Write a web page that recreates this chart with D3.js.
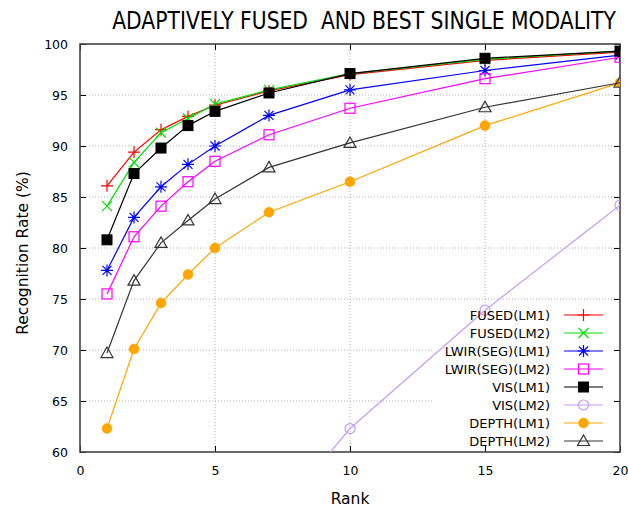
<!DOCTYPE html>
<html>
<head>
<meta charset="utf-8">
<script src="https://cdn.jsdelivr.net/npm/d3@7"></script>
<style>
  html, body { margin: 0; padding: 0; background: #fff; }
  svg { display: block; font-family: "DejaVu Sans", sans-serif; }
</style>
</head>
<body>
<svg id="chart" width="628" height="508"></svg>
<script>
// Ranks evaluated
const ranks = [1, 2, 3, 4, 5, 7, 10, 15, 20];

// Recognition rate (%) per rank
const fusedLM1   = [86.1, 89.4, 91.6, 92.9, 94.0, 95.4, 97.0, 98.4, 99.2];
const fusedLM2   = [84.1, 88.4, 91.3, 92.7, 94.1, 95.5, 97.1, 98.5, 99.3];
const lwirSegLM1 = [77.8, 83.0, 86.0, 88.2, 90.0, 93.0, 95.5, 97.4, 98.9];
const lwirSegLM2 = [75.5, 81.1, 84.1, 86.5, 88.5, 91.1, 93.7, 96.6, 98.7];
const visLM1     = [80.8, 87.3, 89.8, 92.0, 93.4, 95.2, 97.1, 98.6, 99.3];
const visLM2     = [27.5, 35.0, 40.0, 44.0, 47.5, 52.8, 62.3, 73.9, 84.2];
const depthLM1   = [62.3, 70.1, 74.6, 77.4, 80.0, 83.5, 86.5, 92.0, 96.2];
const depthLM2   = [69.7, 76.8, 80.5, 82.7, 84.8, 87.9, 90.3, 93.8, 96.2];

const seriesNames = ["FUSED(LM1)", "FUSED(LM2)", "LWIR(SEG)(LM1)", "LWIR(SEG)(LM2)",
                     "VIS(LM1)", "VIS(LM2)", "DEPTH(LM1)", "DEPTH(LM2)"];
const seriesValues = [fusedLM1, fusedLM2, lwirSegLM1, lwirSegLM2, visLM1, visLM2, depthLM1, depthLM2];

const xTicks = [0, 5, 10, 15, 20];
const yTicks = [60, 65, 70, 75, 80, 85, 90, 95, 100];

const titleText = "ADAPTIVELY FUSED  AND BEST SINGLE MODALITY";
const xLabel = "Rank";
const yLabel = "Recognition Rate (%)";

// Drawing style per series
const styles = [
  { color: "#ff0000", marker: "plus" },
  { color: "#00e000", marker: "cross" },
  { color: "#0000ff", marker: "star" },
  { color: "#ff00ff", marker: "openSquare" },
  { color: "#000000", marker: "filledSquare" },
  { color: "#c59cf5", marker: "openCircle" },
  { color: "#ffa500", marker: "filledCircle" },
  { color: "#333333", marker: "openTriangle" }
];

const svg = d3.select("#chart");
const plotLeft = 80, plotRight = 620, plotTop = 44, plotBottom = 452;

const x = d3.scaleLinear().domain([0, 20]).range([plotLeft, plotRight]);
const y = d3.scaleLinear().domain([60, 100]).range([plotBottom, plotTop]);

svg.append("defs").append("clipPath").attr("id", "plotClip")
  .append("rect").attr("x", plotLeft).attr("y", plotTop)
  .attr("width", plotRight - plotLeft).attr("height", plotBottom - plotTop);

// Dotted grid
const grid = svg.append("g");
grid.selectAll("line.gx").data(xTicks.slice(1, -1)).join("line")
  .attr("x1", d => x(d)).attr("x2", d => x(d))
  .attr("y1", plotTop).attr("y2", plotBottom)
  .attr("stroke", "#b0b0b0").attr("stroke-width", 1).attr("stroke-dasharray", "1,2");
grid.selectAll("line.gy").data(yTicks.slice(1, -1)).join("line")
  .attr("x1", plotLeft).attr("x2", plotRight)
  .attr("y1", d => y(d)).attr("y2", d => y(d))
  .attr("stroke", "#b0b0b0").attr("stroke-width", 1).attr("stroke-dasharray", "1,2");

// Key box (opaque, hides grid behind it)
const keyLeft = 432, keyTop = 304, keyRow = 18, keyFirst = 315;
svg.append("rect").attr("x", keyLeft).attr("y", keyTop)
  .attr("width", 612 - keyLeft).attr("height", 448 - keyTop).attr("fill", "#fff");

// Axes with inward ticks on all sides
function styleAxis(g) {
  g.select(".domain").remove();
  g.selectAll(".tick line").attr("stroke", "#000").attr("stroke-width", 1);
  g.selectAll(".tick text").attr("fill", "#000").attr("font-size", 12.5)
    .attr("font-family", "DejaVu Sans, sans-serif");
}
svg.append("g").attr("transform", `translate(0,${plotBottom})`)
  .call(d3.axisBottom(x).tickValues(xTicks).tickSize(-6).tickPadding(14).tickFormat(d3.format("d")))
  .call(styleAxis);
svg.append("g").attr("transform", `translate(0,${plotTop})`)
  .call(d3.axisTop(x).tickValues(xTicks).tickSize(-6).tickFormat(""))
  .call(styleAxis);
svg.append("g").attr("transform", `translate(${plotLeft},0)`)
  .call(d3.axisLeft(y).tickValues(yTicks).tickSize(-6).tickPadding(12).tickFormat(d3.format("d")))
  .call(styleAxis);
svg.append("g").attr("transform", `translate(${plotRight},0)`)
  .call(d3.axisRight(y).tickValues(yTicks).tickSize(-6).tickFormat(""))
  .call(styleAxis);

// Frame
svg.append("rect").attr("x", plotLeft).attr("y", plotTop)
  .attr("width", plotRight - plotLeft).attr("height", plotBottom - plotTop)
  .attr("fill", "none").attr("stroke", "#444").attr("stroke-width", 1.6);

// Marker drawing
function drawMarker(g, cx, cy, type, color) {
  const s = 5;
  switch (type) {
    case "plus":
      g.append("path").attr("d", `M${cx - 6},${cy}H${cx + 6}M${cx},${cy - 6}V${cy + 6}`)
        .attr("stroke", color).attr("stroke-width", 1.2).attr("fill", "none");
      break;
    case "cross":
      g.append("path").attr("d", `M${cx - s},${cy - s}L${cx + s},${cy + s}M${cx - s},${cy + s}L${cx + s},${cy - s}`)
        .attr("stroke", color).attr("stroke-width", 1.2).attr("fill", "none");
      break;
    case "star":
      g.append("path").attr("d",
        `M${cx - 6},${cy}H${cx + 6}M${cx},${cy - 6}V${cy + 6}` +
        `M${cx - 4.5},${cy - 4.5}L${cx + 4.5},${cy + 4.5}M${cx - 4.5},${cy + 4.5}L${cx + 4.5},${cy - 4.5}`)
        .attr("stroke", color).attr("stroke-width", 1.2).attr("fill", "none");
      break;
    case "openSquare":
      g.append("rect").attr("x", cx - 5).attr("y", cy - 5).attr("width", 10).attr("height", 10)
        .attr("fill", "none").attr("stroke", color).attr("stroke-width", 1.2);
      break;
    case "filledSquare":
      g.append("rect").attr("x", cx - 5).attr("y", cy - 5).attr("width", 10).attr("height", 10)
        .attr("fill", color).attr("stroke", color).attr("stroke-width", 1);
      break;
    case "openCircle":
      g.append("circle").attr("cx", cx).attr("cy", cy).attr("r", 5)
        .attr("fill", "none").attr("stroke", color).attr("stroke-width", 1.2);
      break;
    case "filledCircle":
      g.append("circle").attr("cx", cx).attr("cy", cy).attr("r", 5)
        .attr("fill", color).attr("stroke", color).attr("stroke-width", 0.5);
      break;
    case "openTriangle":
      g.append("path").attr("d", `M${cx},${cy - 6}L${cx + 6},${cy + 4.5}L${cx - 6},${cy + 4.5}Z`)
        .attr("fill", "none").attr("stroke", color).attr("stroke-width", 1.2);
      break;
  }
}

// Series lines and markers (drawn in the order listed, last on top)
const plot = svg.append("g").attr("clip-path", "url(#plotClip)");
const line = d3.line().x(d => x(d[0])).y(d => y(d[1]));
seriesValues.forEach((vals, i) => {
  const pts = ranks.map((r, j) => [r, vals[j]]);
  const g = plot.append("g");
  g.append("path").datum(pts).attr("d", line)
    .attr("fill", "none").attr("stroke", styles[i].color).attr("stroke-width", 1.2);
  pts.forEach(p => {
    if (p[1] >= 60) drawMarker(g, x(p[0]), y(p[1]), styles[i].marker, styles[i].color);
  });
});

// Key entries
const key = svg.append("g");
seriesNames.forEach((name, i) => {
  const ky = keyFirst + i * keyRow;
  key.append("text").attr("x", 550).attr("y", ky).attr("dy", "0.36em")
    .attr("text-anchor", "end").attr("font-size", 13).attr("fill", "#000").text(name);
  key.append("line").attr("x1", 564).attr("x2", 603).attr("y1", ky).attr("y2", ky)
    .attr("stroke", styles[i].color).attr("stroke-width", 1.2);
  drawMarker(key, 583.5, ky, styles[i].marker, styles[i].color);
});

// Title: condensed horizontally to fit its span
const titleG = svg.append("g");
const titleT = titleG.append("text").attr("x", 0).attr("y", 0).attr("text-anchor", "middle")
  .attr("font-size", 25).attr("fill", "#000")
  .style("white-space", "pre").text(titleText);
const natural = titleT.node().getComputedTextLength();
const sx = 504 / natural;
titleG.attr("transform", `translate(364,29) scale(${sx},1)`);

svg.append("text").attr("x", x(10)).attr("y", 504).attr("text-anchor", "middle")
  .attr("font-size", 15.5).attr("fill", "#000").text(xLabel);
svg.append("text").attr("transform", `translate(28,253) rotate(-90)`)
  .attr("text-anchor", "middle").attr("font-size", 15.5).attr("fill", "#000").text(yLabel);
</script>
</body>
</html>
